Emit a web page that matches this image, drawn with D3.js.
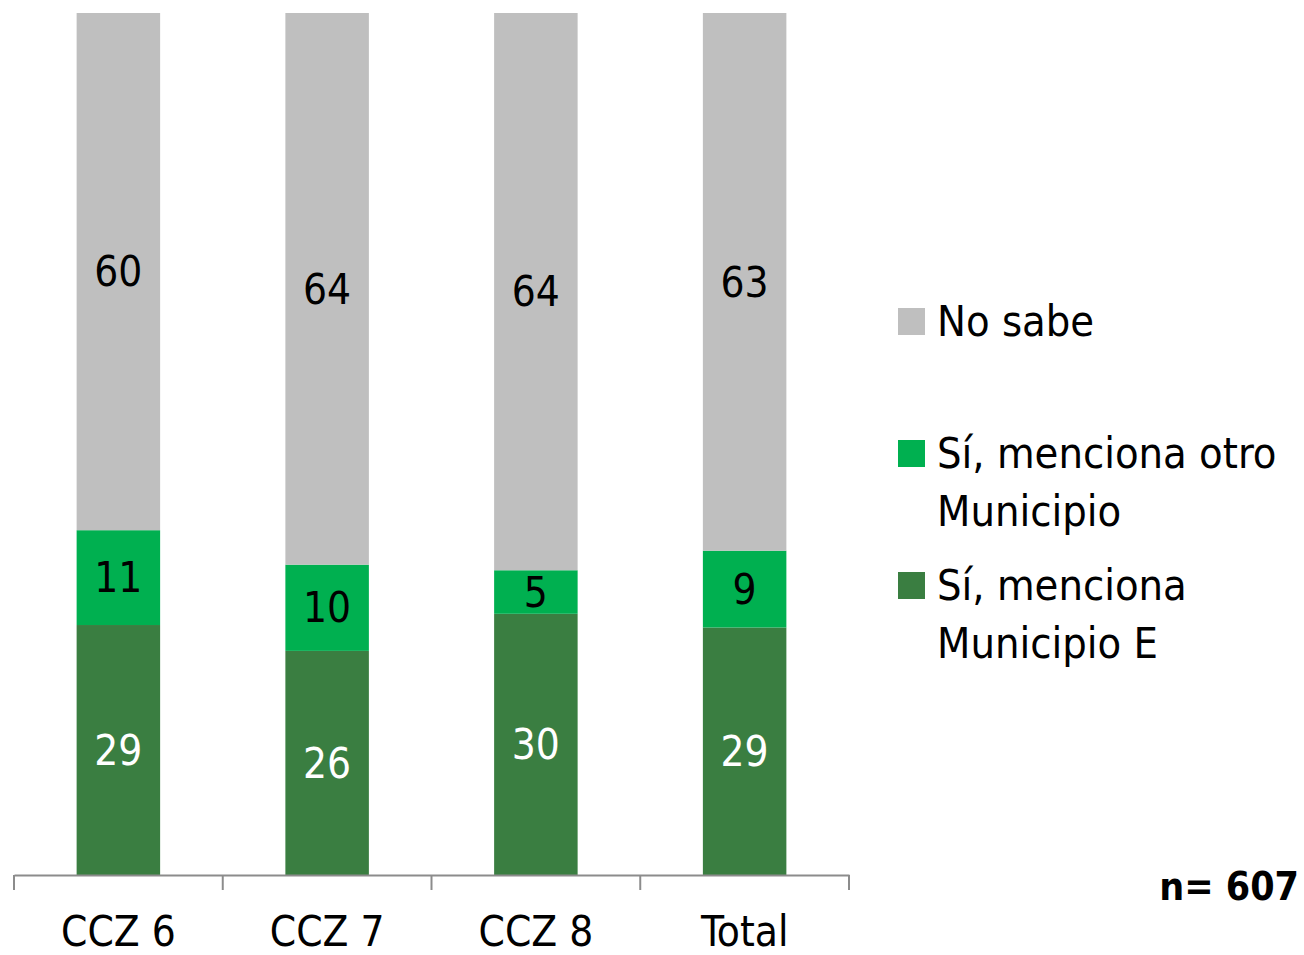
<!DOCTYPE html>
<html lang="es">
<head>
<meta charset="UTF-8">
<script src="https://d3js.org/d3.v7.min.js"></script>
<style>
  body { margin: 0; background: #fff; }
  svg text { font-family: "Liberation Sans Narrow", "DejaVu Sans Condensed", sans-serif; }
</style>
</head>
<body>
<div id="chart"></div>
<script>
// data
const categories = ["CCZ 6", "CCZ 7", "CCZ 8", "Total"];
const siMunicipioE = [29, 26, 30, 29];
const siOtroMunicipio = [11, 10, 5, 9];
const noSabe = [60, 64, 64, 63];
const seriesNames = ["Sí, menciona Municipio E", "Sí, menciona otro Municipio", "No sabe"];
const seriesColors = ["#3a7e41", "#00b050", "#bfbfbf"];
const labelColors = ["#ffffff", "#000000", "#000000"];
const sampleNote = "n= 607";

const width = 1304, height = 955;
const svg = d3.select("#chart").append("svg")
  .attr("width", width)
  .attr("height", height);

const rows = categories.map((c, i) => ({
  cat: c,
  s0: siMunicipioE[i],
  s1: siOtroMunicipio[i],
  s2: noSabe[i]
}));

const stack = d3.stack().keys(["s0", "s1", "s2"]).offset(d3.stackOffsetExpand);
const layers = stack(rows);

const x = d3.scaleBand()
  .domain(categories)
  .range([14, 849])
  .paddingInner(0)
  .paddingOuter(0);

const y = d3.scaleLinear()
  .domain([0, 1])
  .range([875, 13]);

const barW = x.bandwidth() * 0.4;

// bars
const g = svg.append("g");
layers.forEach((layer, k) => {
  const lg = g.append("g");
  lg.selectAll("rect")
    .data(layer)
    .join("rect")
      .attr("x", d => x(d.data.cat) + (x.bandwidth() - barW) / 2)
      .attr("y", d => y(d[1]))
      .attr("width", barW)
      .attr("height", d => y(d[0]) - y(d[1]))
      .attr("fill", seriesColors[k]);

  lg.selectAll("text")
    .data(layer)
    .join("text")
      .attr("x", d => x(d.data.cat) + x.bandwidth() / 2)
      .attr("y", d => (y(d[0]) + y(d[1])) / 2)
      .attr("dy", "0.35em")
      .attr("text-anchor", "middle")
      .attr("font-size", 42)
      .attr("fill", labelColors[k])
      .text(d => d.data[layer.key]);
});

// x axis
const axis = svg.append("g")
  .attr("transform", "translate(0,875)")
  .call(d3.axisBottom(x).tickSize(0).tickSizeOuter(0));
axis.select(".domain").attr("stroke", "#8c8c8c").attr("stroke-width", 2);
axis.selectAll(".tick text")
  .attr("font-size", 42)
  .attr("fill", "#000")
  .attr("dy", 0)
  .attr("y", 71);

// tick marks between categories
const tickPos = categories.map(c => x(c)).concat([x.range()[1]]);
svg.append("g").selectAll("line")
  .data(tickPos)
  .join("line")
    .attr("x1", d => d).attr("x2", d => d)
    .attr("y1", 875).attr("y2", 890)
    .attr("stroke", "#8c8c8c")
    .attr("stroke-width", 2);

// legend
const legendItems = [
  { lines: ["No sabe"], color: seriesColors[2], y: 308 },
  { lines: ["Sí, menciona otro", "Municipio"], color: seriesColors[1], y: 440 },
  { lines: ["Sí, menciona", "Municipio E"], color: seriesColors[0], y: 572 }
];
const legend = svg.append("g");
legendItems.forEach(item => {
  legend.append("rect")
    .attr("x", 898).attr("y", item.y)
    .attr("width", 27).attr("height", 27)
    .attr("fill", item.color);
  const t = legend.append("text")
    .attr("x", 937)
    .attr("y", item.y + 28)
    .attr("font-size", 43)
    .attr("fill", "#000");
  item.lines.forEach((ln, i) => {
    t.append("tspan")
      .attr("x", 937)
      .attr("dy", i === 0 ? 0 : 58)
      .text(ln);
  });
});

svg.append("text")
  .attr("x", 1299)
  .attr("y", 900)
  .attr("text-anchor", "end")
  .attr("font-size", 39)
  .attr("font-weight", "bold")
  .attr("fill", "#000")
  .text(sampleNote);
</script>
</body>
</html>
